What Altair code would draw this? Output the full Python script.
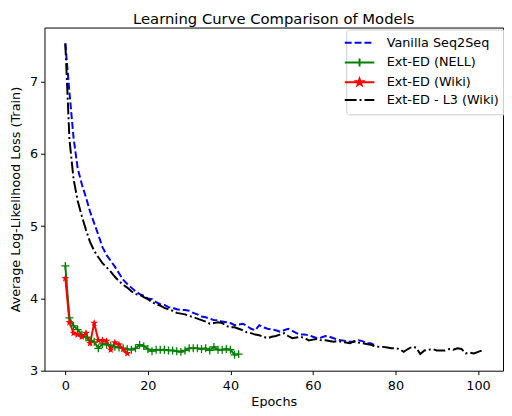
import math
import altair as alt
import pandas as pd

# ---------------- data ----------------
models = ["Vanilla Seq2Seq", "Ext-ED (NELL)", "Ext-ED (Wiki)", "Ext-ED - L3 (Wiki)"]

vanilla = [7.53, 6.85, 6.22, 5.80, 5.58, 5.40, 5.20, 5.04, 4.88, 4.71,
           4.60, 4.52, 4.44, 4.35, 4.26, 4.20, 4.15, 4.10, 4.06, 4.04,
           4.00, 3.99, 3.95, 3.92, 3.91, 3.88, 3.87, 3.85, 3.84, 3.84,
           3.83, 3.80, 3.78, 3.75, 3.74, 3.72, 3.70, 3.70, 3.68, 3.67,
           3.66, 3.63, 3.64, 3.65, 3.62, 3.58, 3.56, 3.63, 3.60, 3.58,
           3.57, 3.56, 3.54, 3.56, 3.58, 3.55, 3.52, 3.50, 3.50, 3.49,
           3.47, 3.45, 3.46, 3.48, 3.47, 3.45, 3.43, 3.42, 3.41, 3.40,
           3.40, 3.42, 3.41, 3.38, 3.38, 3.35]

nell = [4.45, 3.73, 3.62, 3.57, 3.50, 3.46, 3.42, 3.40, 3.31, 3.37,
        3.36, 3.35, 3.33, 3.32, 3.31, 3.30, 3.29, 3.31, 3.36, 3.34,
        3.30, 3.27, 3.29, 3.29, 3.29, 3.28, 3.28, 3.27, 3.26, 3.28,
        3.31, 3.31, 3.31, 3.30, 3.31, 3.28, 3.33, 3.29, 3.29, 3.30,
        3.29, 3.22, 3.23]

wiki = [4.28, 3.67, 3.52, 3.50, 3.47, 3.52, 3.38, 3.66, 3.42, 3.42,
        3.41, 3.29, 3.39, 3.36, 3.30, 3.24]

l3wiki = [7.53, 6.20, 5.65, 5.35, 5.14, 4.95, 4.78, 4.66, 4.57, 4.49,
          4.43, 4.37, 4.30, 4.24, 4.19, 4.15, 4.10, 4.06, 4.05, 4.02,
          3.99, 3.95, 3.92, 3.90, 3.87, 3.85, 3.83, 3.80, 3.79, 3.78,
          3.76, 3.74, 3.72, 3.70, 3.68, 3.65, 3.66, 3.67, 3.66, 3.62,
          3.60, 3.60, 3.58, 3.56, 3.53, 3.52, 3.50, 3.49, 3.47, 3.45,
          3.47, 3.48, 3.50, 3.52, 3.48, 3.45, 3.46, 3.47, 3.45, 3.42,
          3.43, 3.44, 3.42, 3.42, 3.41, 3.40, 3.41, 3.40, 3.39, 3.38,
          3.41, 3.39, 3.38, 3.37, 3.36, 3.34, 3.33, 3.33, 3.32, 3.31,
          3.31, 3.30, 3.26, 3.30, 3.33, 3.32, 3.23, 3.28, 3.29, 3.30,
          3.28, 3.28, 3.28, 3.30, 3.29, 3.31, 3.30, 3.24, 3.25, 3.24,
          3.26, 3.28]

x_ticks = [0, 20, 40, 60, 80, 100]
y_ticks = [3, 4, 5, 6, 7]

# ---------------- table ----------------
rows = []
for name, series in zip(models, [vanilla, nell, wiki, l3wiki]):
    for i, v in enumerate(series):
        rows.append({"Model": name, "Epoch": i, "Loss": v})
df = pd.DataFrame(rows)

colors = ["#0000ff", "#008000", "#ff0000", "#000000"]
dashes = [[7, 3], [1, 0], [1, 0], [12, 3, 2, 3]]


def star(r_out, r_in):
    pts = []
    for k in range(10):
        r = r_out if k % 2 == 0 else r_in
        a = math.radians(-90 + 36 * k)
        pts.append(f"{r * math.cos(a):.3f},{r * math.sin(a):.3f}")
    return "M" + "L".join(pts) + "Z"


plus_path = "M-1,0H1M0,-1V1"
star_path = star(1.0, 0.4)
legend_shapes = [
    "M-3,0H3",
    "M-3,0H3M0,-0.8V0.8",
    "M-3,0H3M" + star(0.7, 0.28)[1:],
    "M-3,0H3",
]

x_enc = alt.X("Epoch:Q", title="Epochs",
              scale=alt.Scale(domain=[-5.05, 106.05], nice=False, zero=False),
              axis=alt.Axis(values=x_ticks, format="d", labelPadding=5, titlePadding=3))
y_enc = alt.Y("Loss:Q", title="Average Log-Likelihood Loss (Train)",
              scale=alt.Scale(domain=[3.0, 7.75], nice=False, zero=False),
              axis=alt.Axis(values=y_ticks, format="d", titlePadding=7))

color_enc = alt.Color("Model:N", scale=alt.Scale(domain=models, range=colors),
                      legend=alt.Legend(title=None))

base = alt.Chart(df)

lines = base.mark_line(strokeWidth=2, clip=True).encode(
    x=x_enc, y=y_enc, color=color_enc,
    strokeDash=alt.StrokeDash("Model:N", scale=alt.Scale(domain=models, range=dashes),
                              legend=alt.Legend(title=None)),
    order="Epoch:Q",
)

plus_marks = base.transform_filter(alt.datum.Model == "Ext-ED (NELL)").mark_point(
    shape=plus_path, size=64, strokeWidth=1.3, color="#008000", opacity=1, clip=True
).encode(x=x_enc, y=y_enc)

star_marks = base.transform_filter(alt.datum.Model == "Ext-ED (Wiki)").mark_point(
    shape=star_path, size=70, filled=True, color="#ff0000", opacity=1, clip=True
).encode(x=x_enc, y=y_enc)

legend_layer = base.transform_filter("false").mark_point(opacity=1).encode(
    x=x_enc, y=y_enc, color=color_enc,
    shape=alt.Shape("Model:N", scale=alt.Scale(domain=models, range=legend_shapes),
                    legend=alt.Legend(title=None)),
)

chart = alt.layer(lines, plus_marks, star_marks, legend_layer).properties(
    width=465, height=348,
    title=alt.TitleParams("Learning Curve Comparison of Models", fontSize=15,
                          font="DejaVu Sans", fontWeight="normal", color="black",
                          anchor="middle", baseline="alphabetic", offset=3, dy=14.5),
    autosize=alt.AutoSizeParams(type="none"),
    padding={"left": 37, "top": 17, "right": 1, "bottom": 35},
    background="white",
).configure_view(stroke="black", strokeWidth=1).configure_axis(
    labelFont="DejaVu Sans", titleFont="DejaVu Sans", labelFontSize=13,
    titleFontSize=13, titleFontWeight="normal", labelColor="black",
    titleColor="black", tickColor="black", tickSize=4, tickWidth=1,
    labelPadding=3, domain=False, grid=False,
).configure_legend(
    orient="none", legendX=306, legendY=2, fillColor="rgba(255,255,255,0.8)",
    strokeColor="#cccccc", cornerRadius=3, padding=7, labelFont="DejaVu Sans",
    labelFontSize=13, labelColor="black", rowPadding=4, symbolSize=100,
    symbolStrokeWidth=2, labelOffset=21,
)

chart.save("out.html", embed_options={"renderer": "svg", "actions": False})
